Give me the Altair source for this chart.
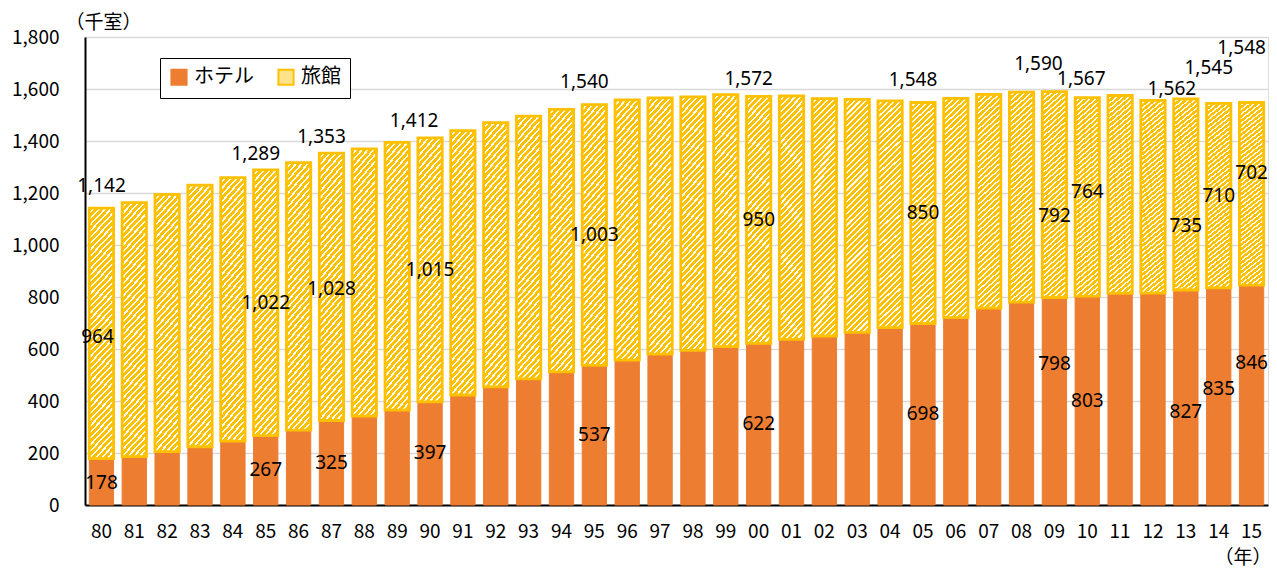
import altair as alt
import pandas as pd

# ---------------- data (thousand rooms) ----------------
years = ["80", "81", "82", "83", "84", "85", "86", "87", "88", "89",
         "90", "91", "92", "93", "94", "95", "96", "97", "98", "99",
         "00", "01", "02", "03", "04", "05", "06", "07", "08", "09",
         "10", "11", "12", "13", "14", "15"]
hotel = [178, 186, 205, 224, 246, 267, 288, 325, 342, 365,
         397, 423, 454, 485, 512, 537, 557, 580, 595, 609,
         622, 637, 650, 664, 682, 698, 721, 757, 780, 798,
         803, 814, 815, 827, 835, 846]
ryokan = [964, 977, 990, 1006, 1013, 1022, 1029, 1028, 1028, 1030,
          1015, 1017, 1017, 1011, 1010, 1003, 1001, 986, 975, 969,
          950, 936, 913, 896, 872, 850, 843, 822, 808, 792,
          764, 761, 741, 735, 710, 702]
label_years = ["80", "85", "87", "90", "95", "00", "05", "09", "10", "13", "14", "15"]
series_names = ["ホテル", "旅館"]
y_ticks = [0, 200, 400, 600, 800, 1000, 1200, 1400, 1600, 1800]

# ---------------- label placement tweaks (styling) ----------------
total_gap = 65
total_nudge = {"80": 21, "85": -4, "87": -3, "95": 23, "05": 22, "09": 41,
               "10": 6, "13": -27, "14": 71, "15": 145}
total_dx = {"80": 10, "90": -6, "09": -6, "10": 4, "13": -4}
ryokan_nudge = {"80": -14, "87": -8, "09": -82, "10": 19, "13": -121,
                "14": -2, "15": 80}
ryokan_dx = {"80": -4}
hotel_nudge = {"80": -4, "09": 143, "13": -54, "14": 28, "15": 124}
HALF_BAR = 12.2

ORANGE = "#ED7D31"
GOLD = "#FFC000"
FONT = "Noto Sans CJK JP"
NUM_FONT = "Noto Sans"

df = pd.DataFrame({"year": years, "hotel": hotel, "ryokan": ryokan})
df["total"] = df["hotel"] + df["ryokan"]

rows = []
for _, r in df[df["year"].isin(label_years)].iterrows():
    y = r["year"]
    rows.append({"year": y, "value": r["total"], "kind": "total",
                 "ypos": r["total"] + total_gap + total_nudge.get(y, 0),
                 "dx": HALF_BAR - 10 + total_dx.get(y, 0)})
    rows.append({"year": y, "value": r["ryokan"], "kind": "ryokan",
                 "ypos": r["hotel"] + r["ryokan"] / 2 + ryokan_nudge.get(y, 0),
                 "dx": HALF_BAR + ryokan_dx.get(y, 0)})
    rows.append({"year": y, "value": r["hotel"], "kind": "hotel",
                 "ypos": r["hotel"] / 2 + hotel_nudge.get(y, 0),
                 "dx": HALF_BAR})
labels = pd.DataFrame(rows)

# diagonal hatch as a hard-stop linear gradient
N = 44
stops = []
for i in range(N):
    a = i / N
    b = (i + 0.64) / N
    c = (i + 1) / N
    stops += [alt.GradientStop(color=GOLD, offset=a),
              alt.GradientStop(color=GOLD, offset=b),
              alt.GradientStop(color="#FFFFFF", offset=b),
              alt.GradientStop(color="#FFFFFF", offset=c)]
r_ratio = 9.6
ga = (1 + r_ratio) / (1 + r_ratio ** 2)
hatch = alt.LinearGradient(gradient="linear", stops=stops,
                           x1=0, y1=0, x2=ga, y2=ga * r_ratio)

x_enc = alt.X("year:N", sort=years,
              scale=alt.Scale(paddingInner=0.26, paddingOuter=0.13),
              axis=alt.Axis(title="（年）", labelAngle=0, labelFontSize=19,
                            labelFont=FONT, labelColor="#000", labelPadding=17,
                            ticks=False, domainColor="#000", domainWidth=2,
                            titleFont=FONT, titleFontSize=19, titleFontWeight="normal",
                            titleAlign="right", titleBaseline="middle",
                            titleX=1186, titleY=52, titleColor="#000"))
y_scale = alt.Scale(domain=[0, 1800], nice=False)

legend_kw = dict(title=None, orient="none", legendX=75, legendY=21,
                 direction="horizontal", strokeColor="#000",
                 fillColor="#FFFFFF", padding=9,
                 symbolType="square", symbolSize=230,
                 symbolStrokeWidth=2, labelFontSize=20,
                 labelFont=FONT, labelColor="#000",
                 columnPadding=20, labelOffset=5)

base = alt.Chart(df)

hotel_bars = base.transform_calculate(type="'ホテル'").mark_bar(strokeWidth=1).encode(
    x=x_enc,
    y=alt.Y("hotel:Q", scale=y_scale,
            axis=alt.Axis(values=y_ticks, format=",d", title="（千室）",
                          titleAngle=0, titleAlign="left", titleBaseline="middle",
                          titleX=-20, titleY=-15, titleFont=FONT, titleFontSize=19,
                          titleFontWeight="normal", titleColor="#000",
                          labelFontSize=19, labelFont=FONT, labelColor="#000",
                          labelPadding=26, ticks=False, domainColor="#000",
                          domainWidth=2, gridColor="#D9D9D9", gridWidth=1.5)),
    fill=alt.Fill("type:N", scale=alt.Scale(domain=series_names, range=[ORANGE, "#FFE38A"]),
                  legend=alt.Legend(**legend_kw)),
    stroke=alt.Stroke("type:N", scale=alt.Scale(domain=series_names, range=[ORANGE, GOLD]),
                      legend=alt.Legend(**legend_kw)),
)

ryokan_bars = base.mark_bar(fill=hatch, stroke=GOLD, strokeWidth=2.8).encode(
    x=alt.X("year:N", sort=years),
    y=alt.Y("total:Q", scale=y_scale),
    y2="hotel:Q",
)

text = alt.Chart(labels).mark_text(fontSize=19, font=NUM_FONT, color="#000",
                                   baseline="middle", align="center").encode(
    x=alt.X("year:N", sort=years),
    y=alt.Y("ypos:Q", scale=y_scale),
    xOffset=alt.XOffset("dx:Q", scale=None),
    text=alt.Text("value:Q", format=","),
)

chart = alt.layer(hotel_bars, ryokan_bars, text).properties(
    width=1183, height=468,
    padding={"left": 77, "top": 29, "right": 1, "bottom": 63},
    autosize="none",
).configure_view(stroke="#000", strokeWidth=2).configure(background="white")

chart.save("out.html", embed_options={"renderer": "svg", "actions": False})
